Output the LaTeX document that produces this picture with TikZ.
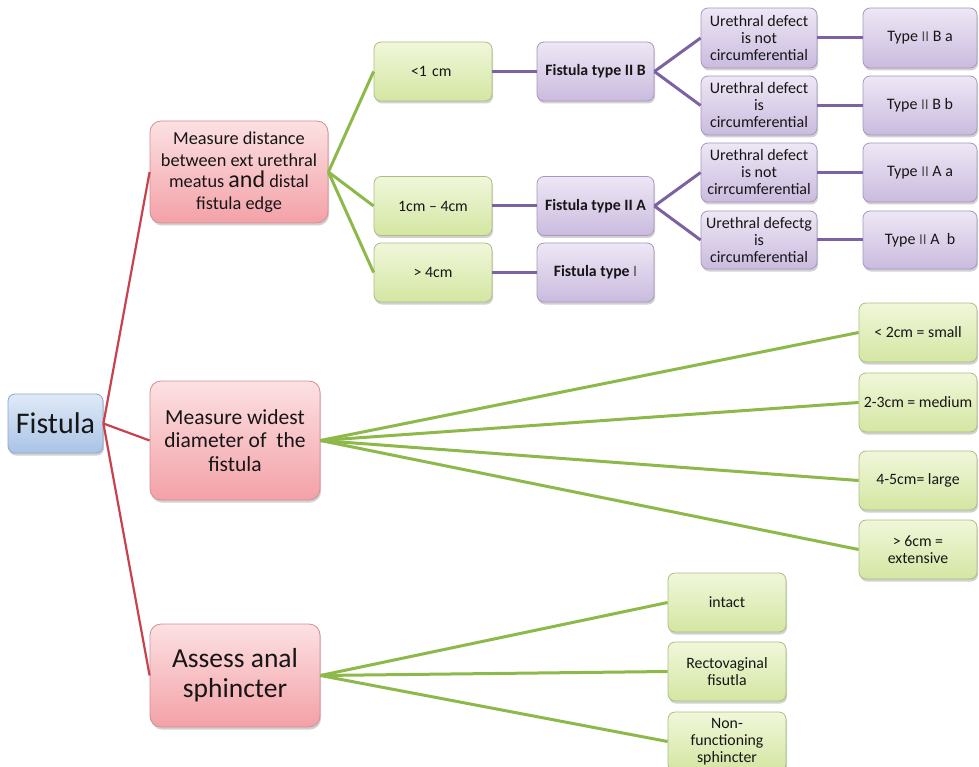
\documentclass[tikz,border=0pt]{standalone}
\usepackage{fontspec}
\setmainfont{Carlito}
\usetikzlibrary{shadows}

\definecolor{txt}{HTML}{161616}
\definecolor{pinkT}{HTML}{FCE1E3}
\definecolor{pinkB}{HTML}{F3A1A7}
\definecolor{pinkD}{HTML}{D58E93}
\definecolor{blueT}{HTML}{DFEAF7}
\definecolor{blueB}{HTML}{A9C3E6}
\definecolor{blueD}{HTML}{8BA6CB}
\definecolor{grnT}{HTML}{F0F7DA}
\definecolor{grnB}{HTML}{D4E6A2}
\definecolor{grnD}{HTML}{ABBE82}
\definecolor{purT}{HTML}{EEE7F5}
\definecolor{purB}{HTML}{CABBDE}
\definecolor{purD}{HTML}{A797BF}
\definecolor{redL}{HTML}{C8424E}
\definecolor{grnL}{HTML}{8DB84A}
\definecolor{purL}{HTML}{7B62A3}
\definecolor{romanc}{HTML}{505050}

% grey roman numerals used inside the type labels
\newcommand{\rnum}[1]{{\fontsize{15}{17}\selectfont\color{romanc}#1}}

\tikzset{
  box/.style={rectangle, rounded corners=7pt, inner sep=1pt, align=center,
    text=txt, line width=0.8pt,
    drop shadow={shadow xshift=1pt, shadow yshift=-2.5pt, opacity=0.3, fill=black!60}},
  gbox/.style={box, draw=grnD, top color=grnT, bottom color=grnB,
    minimum width=118pt, minimum height=59pt, font=\fontsize{15.8}{17}\selectfont},
  pbox/.style={box, draw=purD, top color=purT, bottom color=purB,
    minimum height=59pt, font=\fontsize{16}{17}\selectfont},
  fbox/.style={pbox, minimum width=117pt, font=\fontsize{15.8}{17}\selectfont\bfseries},
  rbox/.style={box, rounded corners=11pt, draw=pinkD, top color=pinkT, bottom color=pinkB},
  rootbox/.style={box, draw=blueD, top color=blueT, bottom color=blueB,
    minimum width=95pt, minimum height=59pt, font=\fontsize{30}{33}\selectfont},
  rline/.style={draw=redL, line width=2.2pt},
  gline/.style={draw=grnL, line width=3pt},
  pline/.style={draw=purL, line width=3pt},
}

\begin{document}
\begin{tikzpicture}[x=1pt, y=-1pt]
\useasboundingbox (0,0) rectangle (979,767);

% root
\node[rootbox] (root) at (55.5,423.5) {Fistula};

% first level
\node[rbox, minimum width=178pt, minimum height=102pt,
  font=\fontsize{18.3}{21.5}\selectfont] (md) at (239,172)
  {Measure distance\\between ext urethral\\meatus {\fontsize{24}{21.5}\selectfont and} distal\\fistula edge};
\node[rbox, minimum width=170pt, minimum height=119pt,
  font=\fontsize{21.5}{23.5}\selectfont] (mw) at (235,440.5)
  {Measure widest\\diameter of\ \ the\\fistula};
\node[rbox, minimum width=170pt, minimum height=103pt,
  font=\fontsize{27.5}{30}\selectfont] (aa) at (235,675.5)
  {Assess anal\\sphincter};

% distance branch
\node[gbox, text width=100pt, align=left] (d1) at (433,71.5) {\hspace*{28pt}<1 cm};
\node[gbox] (d2) at (433,206) {1cm -- 4cm};
\node[gbox] (d3) at (433,272.5) {> 4cm};

\node[fbox] (f2b) at (595.5,71.5) {Fistula type II B};
\node[fbox] (f2a) at (595.5,206) {Fistula type II A};
\node[fbox] (f1) at (595.5,272.5) {Fistula type {\mdseries\color{romanc}I}};

\node[pbox, minimum width=116pt, minimum height=60pt] (u1) at (759,38) {Urethral defect\\is not\\circumferential};
\node[pbox, minimum width=116pt] (u2) at (759,105.5) {Urethral defect\\is\\circumferential};
\node[pbox, minimum width=116pt] (u3) at (759,172.5) {Urethral defect\\is not\\cirrcumferential};
\node[pbox, minimum width=116pt, minimum height=58pt] (u4) at (759,240) {Urethral defectg\\is\\circumferential};

\node[pbox, minimum width=114pt, minimum height=60pt] (t1) at (920,38) {Type \rnum{II} B a};
\node[pbox, minimum width=114pt] (t2) at (920,105.5) {Type \rnum{II} B b};
\node[pbox, minimum width=114pt] (t3) at (920,172.5) {Type \rnum{II} A a};
\node[pbox, minimum width=114pt, minimum height=58pt] (t4) at (920,240) {Type \rnum{II} A\ \ b};

% diameter branch
\node[gbox] (s1) at (918,332.5) {< 2cm = small};
\node[gbox] (s2) at (918,402.5) {2-3cm = medium};
\node[gbox] (s3) at (918,480.5) {4-5cm= large};
\node[gbox] (s4) at (918,549.5) {> 6cm =\\extensive};

% sphincter branch
\node[gbox] (a1) at (727,602.5) {intact};
\node[gbox] (a2) at (727,671.5) {Rectovaginal\\fisutla};
\node[gbox] (a3) at (727,741.5) {Non-\\functioning\\sphincter};

% connectors
\draw[rline] (root.east) -- (md.west);
\draw[rline] (root.east) -- (mw.west);
\draw[rline] (root.east) -- (aa.west);

\draw[gline] (md.east) -- (d1.west);
\draw[gline] (md.east) -- (d2.west);
\draw[gline] (md.east) -- (d3.west);

\draw[pline] (d1.east) -- (f2b.west);
\draw[pline] (d2.east) -- (f2a.west);
\draw[pline] (d3.east) -- (f1.west);

\draw[pline] (f2b.east) -- (u1.west);
\draw[pline] (f2b.east) -- (u2.west);
\draw[pline] (f2a.east) -- (u3.west);
\draw[pline] (f2a.east) -- (u4.west);

\draw[pline] (u1.east) -- (t1.west);
\draw[pline] (u2.east) -- (t2.west);
\draw[pline] (u3.east) -- (t3.west);
\draw[pline] (u4.east) -- (t4.west);

\draw[gline] (mw.east) -- (s1.west);
\draw[gline] (mw.east) -- (s2.west);
\draw[gline] (mw.east) -- (s3.west);
\draw[gline] (mw.east) -- (s4.west);

\draw[gline] (aa.east) -- (a1.west);
\draw[gline] (aa.east) -- (a2.west);
\draw[gline] (aa.east) -- (a3.west);
\end{tikzpicture}
\end{document}
